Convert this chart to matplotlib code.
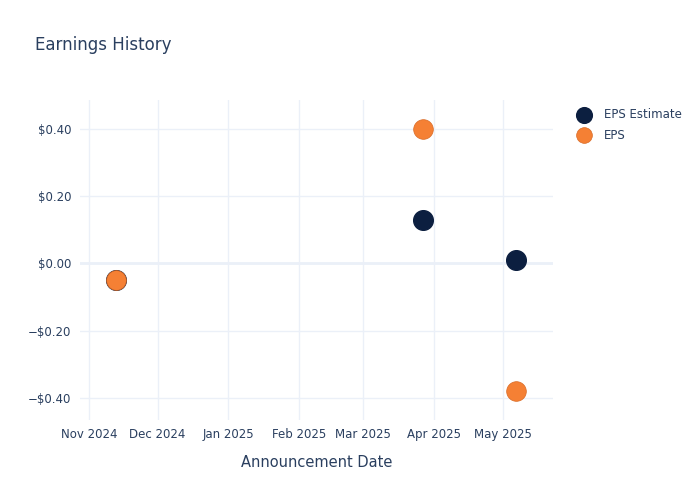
import pandas as pd
import matplotlib
matplotlib.use("Agg")
import matplotlib.pyplot as plt
import matplotlib.dates as mdates
from matplotlib.ticker import FuncFormatter

# dati
date = pd.to_datetime(["2024-11-13", "2025-03-27", "2025-05-07"])
eps_stima = [-0.05, 0.13, 0.01]
eps_reale = [-0.05, 0.40, -0.38]

testo = "#2a3f5f"
griglia = "#ebf0f8"

fig = plt.figure(figsize=(7, 5), dpi=100)
ax = fig.add_axes([0.114, 0.16, 0.676, 0.64])

ax.scatter(date, eps_stima, s=200, color="#0c1f40", zorder=3, label="EPS Estimate")
ax.scatter(date, eps_reale, s=200, color="#f58034", edgecolor="#d86a25",
           linewidth=0.5, zorder=4, label="EPS")

ax.set_xlim(pd.Timestamp("2024-10-28"), pd.Timestamp("2025-05-23"))
ax.set_ylim(-0.465, 0.485)
ax.set_yticks([-0.4, -0.2, 0, 0.2, 0.4])
ax.yaxis.set_major_formatter(FuncFormatter(
    lambda v, p: ("\u2212$%.2f" % abs(v)) if v < -1e-9 else "$%.2f" % abs(v)))
ax.xaxis.set_major_locator(mdates.MonthLocator())
ax.xaxis.set_major_formatter(mdates.DateFormatter("%b %Y"))

ax.grid(True, color=griglia, linewidth=1)
ax.axhline(0, color=griglia, linewidth=2, zorder=1)
ax.set_axisbelow(True)
for s in ax.spines.values():
    s.set_visible(False)
ax.tick_params(length=0, colors=testo, labelsize=8.5, pad=6)

ax.set_xlabel("Announcement Date", color=testo, fontsize=10.5, labelpad=10)
fig.text(0.05, 0.9, "Earnings History", color=testo, fontsize=12)

ax.legend(loc="upper left", bbox_to_anchor=(1.03, 0.99), frameon=False,
          fontsize=8.5, labelcolor=testo, handletextpad=0.7, borderaxespad=0,
          markerscale=0.8, labelspacing=0.65)

fig.savefig("out.png", dpi=100)
